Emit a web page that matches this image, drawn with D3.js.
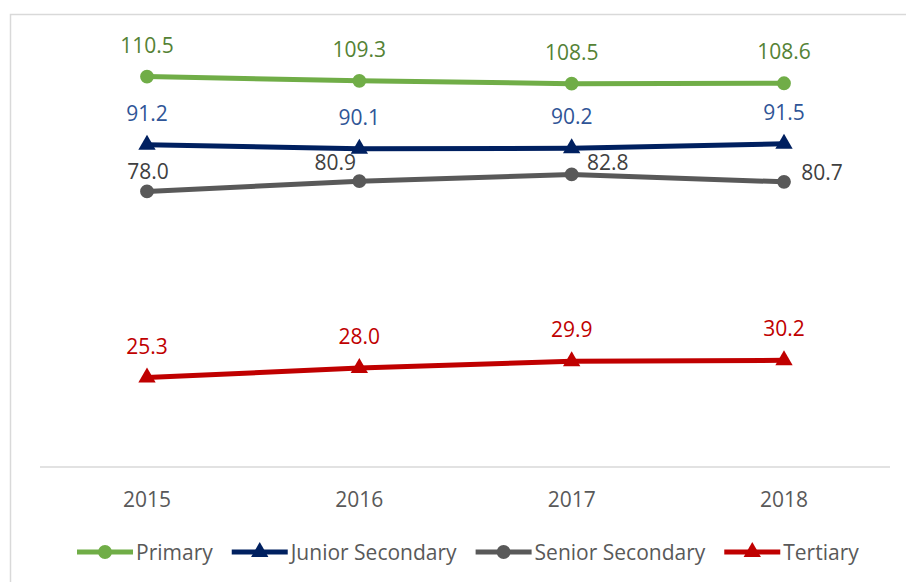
<!DOCTYPE html>
<html>
<head>
<meta charset="utf-8">
<script src="https://cdn.jsdelivr.net/npm/d3@7"></script>
<style>
  body { margin: 0; background: #fff; }
  svg text { font-family: "Open Sans", "Noto Sans", sans-serif; }
</style>
</head>
<body>
<div class="chart"></div>
<script>
// data
var years = ["2015", "2016", "2017", "2018"];
var seriesNames = ["Primary", "Junior Secondary", "Senior Secondary", "Tertiary"];
var primary = [110.5, 109.3, 108.5, 108.6];
var juniorSecondary = [91.2, 90.1, 90.2, 91.5];
var seniorSecondary = [78.0, 80.9, 82.8, 80.7];
var tertiary = [25.3, 28.0, 29.9, 30.2];

var W = 906, H = 582;
var fs = 21;
var svg = d3.select(".chart").append("svg")
  .attr("width", W)
  .attr("height", H);

// outer frame
svg.append("rect")
  .attr("x", 10.5).attr("y", 14.5)
  .attr("width", W).attr("height", H)
  .attr("fill", "none")
  .attr("stroke", "#d9d9d9")
  .attr("stroke-width", 1.5);

var x = d3.scalePoint().domain(years).range([147, 784]);
var y = d3.scaleLinear().domain([0, 120]).range([467, 43]);

// baseline
svg.append("line")
  .attr("x1", 40).attr("x2", 890)
  .attr("y1", y(0)).attr("y2", y(0))
  .attr("stroke", "#d9d9d9")
  .attr("stroke-width", 1.5);

// x labels
svg.append("g").selectAll("text")
  .data(years)
  .enter().append("text")
  .attr("x", function (d) { return x(d); })
  .attr("y", 507)
  .attr("text-anchor", "middle")
  .attr("font-size", fs)
  .attr("fill", "#595959")
  .text(function (d) { return d; });

var series = [
  {name: seriesNames[0], values: primary, color: "#70ad47", label: "#548235", marker: "circle",
   off: [[0, -32], [0, -32], [0, -32], [0, -32]]},
  {name: seriesNames[1], values: juniorSecondary, color: "#002060", label: "#2f5597", marker: "triangle",
   off: [[0, -32], [0, -32], [0, -32], [0, -32]]},
  {name: seriesNames[2], values: seniorSecondary, color: "#595959", label: "#404040", marker: "circle",
   off: [[1, -20], [-24, -19], [36, -12], [38, -10]]},
  {name: seriesNames[3], values: tertiary, color: "#c00000", label: "#c00000", marker: "triangle",
   off: [[0, -32], [0, -32], [0, -32], [0, -32]]}
];

var line = d3.line()
  .x(function (d, i) { return x(years[i]); })
  .y(function (d) { return y(d); });

var circleSym = d3.symbol().type(d3.symbolCircle).size(150);
var triSym = d3.symbol().type(d3.symbolTriangle).size(130);

series.forEach(function (s) {
  var g = svg.append("g");
  g.append("path")
    .attr("d", line(s.values))
    .attr("fill", "none")
    .attr("stroke", s.color)
    .attr("stroke-width", 5)
    .attr("stroke-linejoin", "round");

  g.selectAll(".pt")
    .data(s.values)
    .enter().append("path")
    .attr("class", "pt")
    .attr("transform", function (d, i) { return "translate(" + x(years[i]) + "," + y(d) + ")"; })
    .attr("d", s.marker == "circle" ? circleSym : triSym)
    .attr("fill", s.color);

  g.selectAll(".lbl")
    .data(s.values)
    .enter().append("text")
    .attr("class", "lbl")
    .attr("x", function (d, i) { return x(years[i]) + s.off[i][0]; })
    .attr("y", function (d, i) { return y(d) + s.off[i][1] + 8; })
    .attr("text-anchor", "middle")
    .attr("font-size", fs)
    .attr("fill", s.label)
    .text(function (d) { return d.toFixed(1); });
});

// legend
var legend = svg.append("g");
var lx = 77, ly = 552;
series.forEach(function (s) {
  var item = legend.append("g");
  item.append("line")
    .attr("x1", lx).attr("x2", lx + 56)
    .attr("y1", ly).attr("y2", ly)
    .attr("stroke", s.color)
    .attr("stroke-width", 5);
  item.append("path")
    .attr("transform", "translate(" + (lx + 28) + "," + ly + ")")
    .attr("d", s.marker == "circle" ? circleSym : triSym)
    .attr("fill", s.color);
  var t = item.append("text")
    .attr("x", lx + 59)
    .attr("y", ly + 8)
    .attr("font-size", fs)
    .attr("fill", "#595959")
    .text(s.name);
  lx = lx + 59 + t.node().getComputedTextLength() + 19;
});
</script>
</body>
</html>
